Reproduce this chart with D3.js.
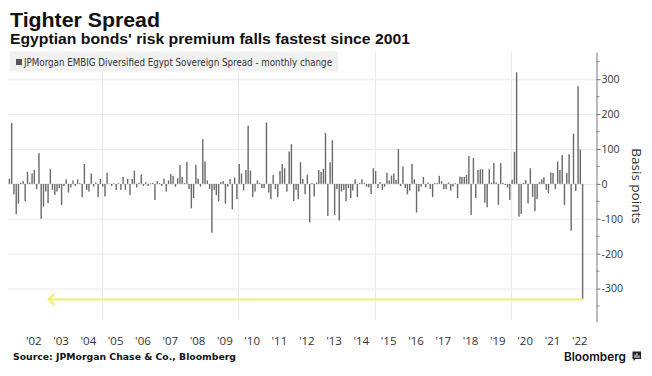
<!DOCTYPE html>
<html>
<head>
<meta charset="utf-8">
<script src="https://cdn.jsdelivr.net/npm/d3@7"></script>
<style>
    body { margin: 0; background: #fff; }
    svg { display: block; }
</style>
</head>
<body>
<svg id="chart" width="652" height="376"></svg>
<script>

// Data (monthly change of the spread, basis points, Aug 2001 - Aug 2022)
const firstMonth = new Date(2001, 7, 15);
const monthlyChange = [
    15, 175, -30, -87, -57, 3, 8, -50, 35, 4, 30, 40, -15, 88, -100, -65, -22, -55, 42, -17, -32, -22,
    -12, -60, -6, 13, -25, -10, 10, -6, 13, 2, -38, 57, -17, -22, 30, -8, 4, -38, 14, -8, -36, 32,
    1, -6, 2, -17, 2, -17, 20, -17, 15, -32, 14, 38, -10, 3, 27, -6, 5, -6, 2, 3, -46, 8,
    2, -6, 15, -22, 10, 28, 23, -8, 16, 54, 20, 3, 63, -15, -70, -41, 55, 15, -8, 128, 64, 10,
    -15, -140, -17, -32, -50, 5, 8, -57, -8, 14, -73, 18, -44, 57, 30, -19, 40, 167, 38, -38, -22, 10,
    3, -12, -12, 176, -25, -44, 26, -15, -38, 37, 57, 45, -22, 93, 114, -49, -17, -44, 62, 14, -30, 26,
    -110, 3, -36, 4, 40, 34, 43, 146, -92, 62, 125, -89, -15, -105, -22, -17, -50, -12, -41, -19, 13, -38,
    3, 13, 3, -8, -10, -29, 45, 37, -12, 5, -17, -8, 32, 10, 24, 30, 11, 100, -6, 50, -12, -30,
    -19, 57, 13, -82, -22, -8, 20, -10, 4, -15, -38, 2, 2, 23, 8, -15, -15, 4, -19, -8, 2,
    -41, 21, 20, 20, 26, 80, -89, 74, -41, 40, 42, 42, -54, -67, 42, 4, 60, 4, -60, 60,
    3, -3, -10, -46, 12, 92, 320, -94, -86, 3, 11, -56, 45, -37, -78, -44, 5, 13,
    19, -17, -27, 33, 31, -15, 64, 40, 83, -61, 31, 85, -134, 144, -20, 280, 98, -331
];
const yTicks = [-300, -200, -100, 0, 100, 200, 300];
const yMinorTicks = [-350, -250, -150, -50, 50, 150, 250, 350];
const labelYears = d3.range(2002, 2023);
const gridYears = [2005, 2010, 2015, 2020];
const arrowTarget = new Date(2003, 0, 25);

// Texts
const TITLE = 'Tighter Spread';
const SUBTITLE = "Egyptian bonds' risk premium falls fastest since 2001";
const LEGEND = 'JPMorgan EMBIG Diversified Egypt Sovereign Spread - monthly change';
const SOURCE = 'Source: JPMorgan Chase & Co., Bloomberg';
const AXIS_TITLE = 'Basis points';

// Layout
const PLOT_LEFT = 8, PLOT_RIGHT = 596, PLOT_TOP = 52, PLOT_BOTTOM = 321.7;
const BAR_WIDTH = 1.4;
const COLOR_BAR = '#6a6a6a';
const COLOR_GRID = '#e9e9e9';
const COLOR_TEXT = '#333';
const COLOR_ARROW = '#f4f07c';

const svg = d3.select('#chart');

const data = monthlyChange.map((v, i) => ({
    date: d3.timeMonth.offset(firstMonth, i),
    value: v
}));

// Scales
const x = d3.scaleTime()
    .domain([new Date(2001, 6, 28), new Date(2023, 1, 10)])
    .range([PLOT_LEFT, PLOT_RIGHT]);
const y = d3.scaleLinear()
    .domain([-395, 378])
    .range([PLOT_BOTTOM, PLOT_TOP]);

// Grid
const grid = svg.append('g').attr('class', 'grid');
grid.selectAll('line.h')
    .data(yTicks)
    .enter().append('line')
        .attr('class', 'h')
        .attr('x1', PLOT_LEFT).attr('x2', PLOT_RIGHT)
        .attr('y1', (d) => y(d) + 0.5).attr('y2', (d) => y(d) + 0.5)
        .attr('stroke', COLOR_GRID);
grid.selectAll('line.v')
    .data(gridYears)
    .enter().append('line')
        .attr('class', 'v')
        .attr('x1', (d) => Math.round(x(new Date(d, 0, 1))) + 0.5)
        .attr('x2', (d) => Math.round(x(new Date(d, 0, 1))) + 0.5)
        .attr('y1', PLOT_TOP).attr('y2', PLOT_BOTTOM - 2)
        .attr('stroke', COLOR_GRID);

// Legend box
const legend = svg.append('g').attr('class', 'legend');
legend.append('rect')
    .attr('x', 10).attr('y', 51.5)
    .attr('width', 328).attr('height', 20)
    .attr('fill', '#eeeeee')
    .attr('fill-opacity', 0.85);
legend.append('rect')
    .attr('x', 16).attr('y', 59)
    .attr('width', 6).attr('height', 6)
    .attr('fill', '#555');
legend.append('text')
    .attr('x', 24).attr('y', 66.3)
    .attr('font-family', '"DejaVu Sans Condensed", "DejaVu Sans", sans-serif')
    .attr('font-size', 9.6)
    .attr('textLength', 308)
    .attr('lengthAdjust', 'spacingAndGlyphs')
    .attr('fill', COLOR_TEXT)
    .text(LEGEND);

// Bars
svg.append('g')
    .attr('class', 'bars')
    .selectAll('rect')
    .data(data)
    .enter().append('rect')
        .attr('x', (d) => x(d.date) - BAR_WIDTH / 2)
        .attr('width', BAR_WIDTH)
        .attr('y', (d) => y(Math.max(0, d.value)))
        .attr('height', (d) => Math.abs(y(d.value) - y(0)))
        .attr('fill', COLOR_BAR);

// Arrow annotation (from the last bar back in time)
const last = data[data.length - 1];
const arrow = svg.append('g').attr('class', 'arrow')
    .attr('stroke', COLOR_ARROW)
    .attr('stroke-width', 2.4)
    .attr('fill', 'none')
    .attr('stroke-linecap', 'round');
arrow.append('line')
    .attr('x1', x(last.date)).attr('x2', x(arrowTarget))
    .attr('y1', y(last.value)).attr('y2', y(last.value));
arrow.append('path')
    .attr('d', 'M' + (x(arrowTarget) + 5) + ',' + (y(last.value) - 5) +
               'L' + x(arrowTarget) + ',' + y(last.value) +
               'L' + (x(arrowTarget) + 5) + ',' + (y(last.value) + 5));

// Y axis (right)
const yAxis = svg.append('g')
    .attr('transform', 'translate(' + (PLOT_RIGHT + 0.5) + ',0)')
    .call(d3.axisRight(y)
        .tickValues(yTicks)
        .tickSize(4)
        .tickSizeOuter(0)
        .tickPadding(1)
        .tickFormat((d) => String(d)));
yAxis.select('.domain').attr('stroke', '#777');
yAxis.selectAll('.tick line').attr('stroke', '#777');
yAxis.selectAll('.tick text')
    .attr('font-family', '"Open Sans", sans-serif')
    .attr('font-size', 10.5)
    .attr('fill', COLOR_TEXT);
yAxis.selectAll('line.minor')
    .data(yMinorTicks)
    .enter().append('line')
        .attr('class', 'minor')
        .attr('x1', 0).attr('x2', 3)
        .attr('y1', (d) => y(d)).attr('y2', (d) => y(d))
        .attr('stroke', '#888');

svg.append('text')
    .attr('transform', 'translate(632,186) rotate(90)')
    .attr('text-anchor', 'middle')
    .attr('font-family', '"Open Sans", sans-serif')
    .attr('font-size', 13.5)
    .attr('fill', COLOR_TEXT)
    .text(AXIS_TITLE);

// X axis (year labels at mid-year)
const xAxis = svg.append('g')
    .attr('transform', 'translate(0,337)')
    .call(d3.axisBottom(x)
        .tickValues(labelYears.map((yr) => new Date(yr, 6, 1)))
        .tickSize(0)
        .tickPadding(0)
        .tickFormat((d) => "'" + d3.timeFormat('%y')(d)));
xAxis.select('.domain').remove();
xAxis.selectAll('.tick text')
    .attr('font-family', '"Open Sans", sans-serif')
    .attr('font-size', 11.5)
    .attr('fill', COLOR_TEXT);

// Titles
svg.append('text')
    .attr('x', 10).attr('y', 27)
    .attr('font-family', '"Liberation Sans", Arial, sans-serif')
    .attr('font-weight', 'bold')
    .attr('font-size', 20.5)
    .attr('textLength', 150)
    .attr('lengthAdjust', 'spacingAndGlyphs')
    .attr('fill', '#111')
    .text(TITLE);
svg.append('text')
    .attr('x', 10).attr('y', 43.5)
    .attr('font-family', '"Liberation Sans", Arial, sans-serif')
    .attr('font-weight', 'bold')
    .attr('font-size', 14)
    .attr('textLength', 400)
    .attr('lengthAdjust', 'spacingAndGlyphs')
    .attr('fill', '#111')
    .text(SUBTITLE);

// Footer
svg.append('text')
    .attr('x', 13).attr('y', 359.5)
    .attr('font-family', '"DejaVu Sans", Verdana, sans-serif')
    .attr('font-weight', 'bold')
    .attr('font-size', 8.6)
    .attr('textLength', 223)
    .attr('lengthAdjust', 'spacingAndGlyphs')
    .attr('fill', '#111')
    .text(SOURCE);
svg.append('text')
    .attr('x', 564).attr('y', 360.5)
    .attr('font-family', 'Inter, Roboto, sans-serif')
    .attr('font-weight', 600)
    .attr('font-size', 11.5)
    .attr('textLength', 62)
    .attr('lengthAdjust', 'spacingAndGlyphs')
    .attr('fill', '#111')
    .text('Bloomberg');

// Bloomberg mark
const logo = svg.append('g').attr('transform', 'translate(632.5,351.5)');
logo.append('path')
    .attr('d', 'M0,0H8.5V7.5H3L1,9.5V7.5H0Z')
    .attr('fill', '#222');
logo.selectAll('rect')
    .data([[2, 3, 3.5], [4, 1.5, 5], [6, 4, 2.5]])
    .enter().append('rect')
        .attr('x', (d) => d[0]).attr('y', (d) => d[1])
        .attr('width', 1).attr('height', (d) => d[2])
        .attr('fill', '#fff');

</script>
</body>
</html>
